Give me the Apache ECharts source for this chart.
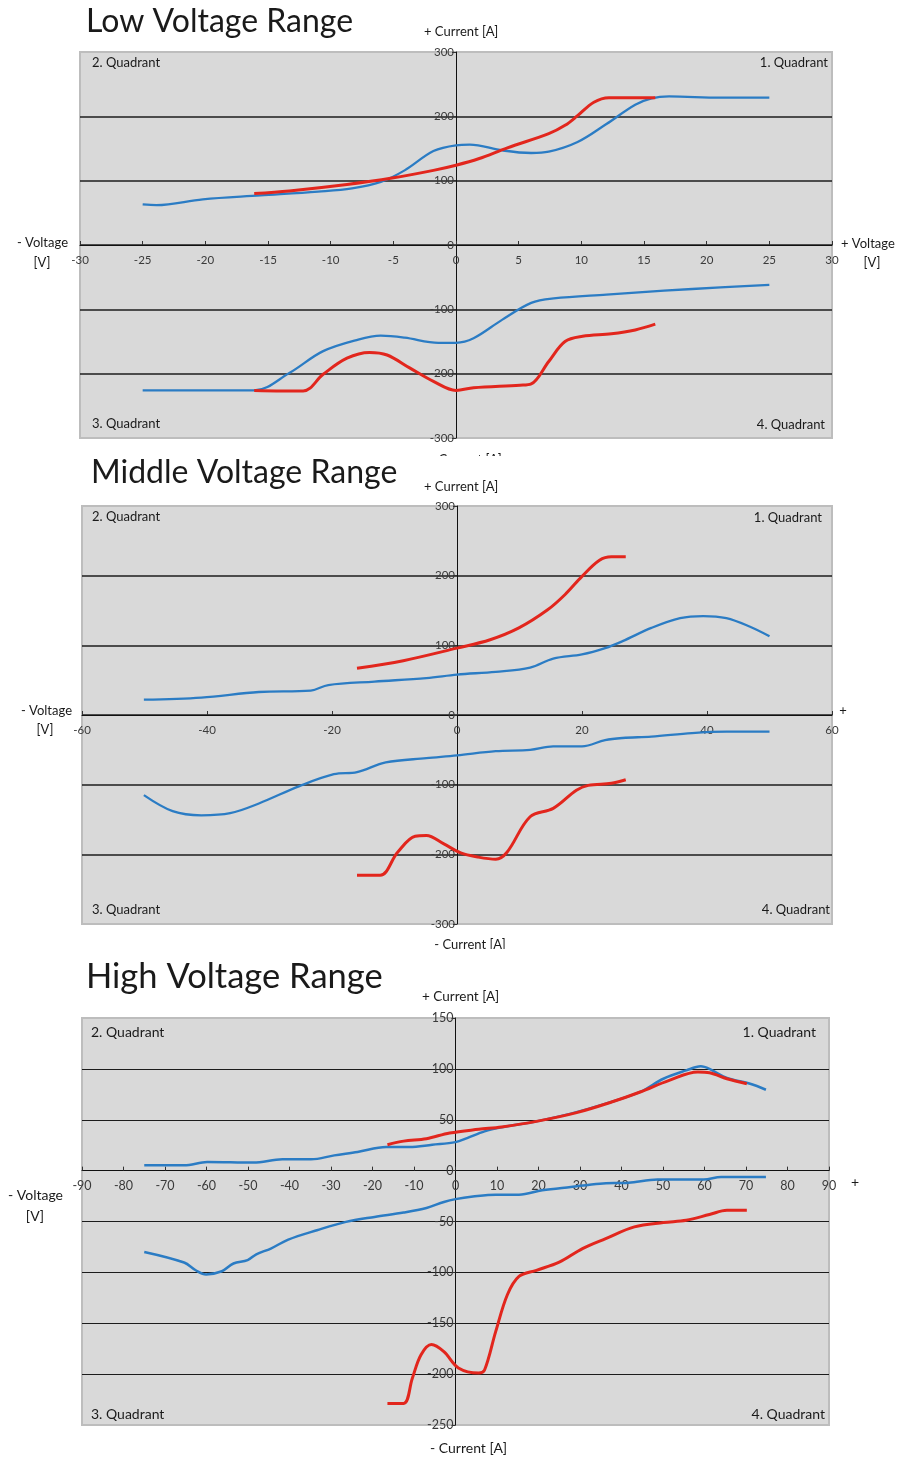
<!DOCTYPE html>
<html><head><meta charset="utf-8">
<script src="https://cdn.jsdelivr.net/npm/echarts@6/dist/echarts.min.js"></script>
<style>html,body{margin:0;padding:0;background:#fff}#c{width:904px;height:1458px}</style>
</head><body><div id="c"></div>
<script>
// ---- Low voltage range ----
const lowBluePos = [[-25,63],[-23.9,62],[-20.2,71],[-15.6,77],[-11,83],[-8.3,88],[-6,98],[-4.1,116],[-1.8,146],[0,155],[1.1,156],[3.7,147],[6,143],[7.4,145],[9.7,160],[12,188],[14.3,218],[15.6,228],[17,231],[21.1,229],[25,229]];
const lowRedPos = [[-16.1,80],[-13.3,84],[-8.7,94],[-5.1,104],[-1.8,116],[0,124],[1.8,134],[4.1,151],[7.4,173],[8.7,186],[9.7,201],[11,222],[12.2,229],[14.3,229],[15.9,229]];
const lowBlueNeg = [[-25,-226],[-16.1,-226],[-13.3,-199],[-10.6,-165],[-7.8,-147],[-6,-141],[-4.1,-144],[-1.4,-152],[0,-152],[1.4,-145],[3.7,-116],[6,-90],[7.8,-83],[12,-77],[16.6,-71],[21.1,-66],[25,-62]];
const lowRedNeg = [[-16.1,-226],[-12.2,-227],[-10.6,-201],[-8.7,-176],[-6.9,-167],[-5.5,-171],[-3.7,-191],[-1.8,-212],[0,-226],[1.4,-222],[5.1,-218],[6,-216],[7.4,-181],[8.7,-150],[10.1,-142],[12.4,-138],[14.3,-132],[15.9,-123]];
// ---- Middle voltage range ----
const midBluePos = [[-50.1,22],[-40.9,25],[-31.7,33],[-23.4,35],[-20.6,43],[-13.2,48],[-4.9,53],[0,58],[6.2,62],[11.7,68],[15.4,81],[20,87],[23.7,96],[26.5,106],[31.1,125],[35.7,139],[39.4,142],[43.1,139],[46.8,127],[50,113]];
const midRedPos = [[-16,67],[-8.6,78],[0,96],[5.3,108],[9.9,125],[14.5,151],[17.3,173],[20,199],[22.8,222],[24.7,227],[27,227]];
const midBlueNeg = [[-50.1,-115],[-45.5,-138],[-40.9,-144],[-36.3,-141],[-31.7,-127],[-25.2,-102],[-19.7,-85],[-16,-82],[-11.4,-68],[-4.9,-62],[0,-58],[6.2,-52],[11.7,-50],[15.4,-45],[20,-45],[23.7,-36],[26.5,-33],[31.1,-31],[37.6,-26],[43.1,-24],[50,-24]];
const midRedNeg = [[-16,-230],[-12.3,-230],[-9.5,-197],[-6.7,-174],[-4.9,-173],[-2.1,-185],[0.6,-198],[3.4,-204],[6.2,-207],[8,-197],[11.7,-146],[15.4,-134],[19.1,-108],[21,-101],[24.7,-98],[27,-93]];
// ---- High voltage range ----
const highBluePos = [[-75,5.2],[-65.4,5.2],[-59.8,8.5],[-48.7,7.9],[-41.7,11.1],[-34.8,11.1],[-29.2,15],[-23.6,18.3],[-16.7,23.2],[-11.1,23.2],[-5.6,25.5],[0,28],[2.8,32],[7,38.6],[11.1,42.5],[19.5,48.4],[27.8,56],[36.2,65.8],[44.5,77.3],[50.1,90.3],[55.6,98.5],[59.1,102.5],[61.2,100],[65.4,91],[71,85.4],[74.8,79.5]];
const highRedPos = [[-16.4,25.5],[-12.5,29],[-7,31.4],[-1.4,37],[5.6,40.6],[11.1,42.9],[19.5,48.4],[29.2,57],[37.6,67.4],[44.5,77.3],[51.5,88.7],[58.4,96.9],[61.2,96.2],[65.4,90.3],[70.2,85.4]];
const highBlueNeg = [[-75,-79.9],[-65.4,-90.3],[-62.6,-97.9],[-60.1,-102],[-56.3,-98.9],[-53.5,-91.3],[-50.1,-88],[-48,-82.2],[-44.5,-76.6],[-40.3,-67.8],[-33.4,-58.6],[-26.4,-50.4],[-19.5,-45.5],[-12.5,-41.2],[-7,-36.7],[-2.8,-30.8],[0,-28],[4.2,-25.5],[9.7,-23.6],[15.3,-23.6],[20.9,-19.3],[27.8,-16],[34.8,-12.8],[41.7,-11.8],[48.7,-8.8],[59.8,-8.8],[64,-6.2],[74.8,-6.2]];
const highRedNeg = [[-16.4,-228.8],[-12.5,-228.8],[-10.4,-204],[-8.3,-181],[-5.8,-171],[-2.8,-178],[0.7,-194],[5.6,-199],[7,-196],[9.7,-158],[12.5,-122],[15.3,-104],[19.5,-98],[25,-90],[30.6,-76.6],[36.2,-66.8],[43.1,-55.3],[50.1,-51],[55.6,-48.8],[61.2,-43.2],[65.4,-39],[70.2,-39]];

const titles = ['Low Voltage Range','Middle Voltage Range','High Voltage Range'];
const quadrantLabels = ['1. Quadrant','2. Quadrant','3. Quadrant','4. Quadrant'];
const xRanges = [[-30,30,5],[-60,60,20],[-90,90,10]];
const yRanges = [[-300,300,100],[-300,300,100],[-250,150,50]];

const BLUE = '#2b7cc4', RED = '#e2261d';
const FONT = 'Lato, "Open Sans", sans-serif';
const grids = [
  {left:80, top:52, width:752, height:386},
  {left:82, top:506, width:750, height:418},
  {left:82, top:1018, width:747, height:407}
];
const labelSizes = [11.5, 11.5, 12.5];

const chart = echarts.init(document.getElementById('c'), null, {renderer:'canvas'});

function splitColors(r){
  const n = Math.round((r[1]-r[0])/r[2])+1;
  const arr = [];
  for(let i=0;i<n;i++) arr.push((i===0||i===n-1)?'rgba(0,0,0,0)':'#1c1c1c');
  return arr;
}

// axes crossing at the origin: shift each axis by the zero position of the other one
const xAxes = xRanges.map((r,i)=>{
  const yr = yRanges[i];
  const off = -grids[i].height * (0 - yr[0]) / (yr[1]-yr[0]);
  return {
    type:'value', gridIndex:i, min:r[0], max:r[1], interval:r[2], position:'bottom', offset:off,
    axisLine:{show:true, onZero:false, lineStyle:{color:'#111', width:1}},
    axisTick:{show:true, inside:true, length:4, lineStyle:{color:'#333'}},
    axisLabel:{color:'#3a3a3a', fontSize:labelSizes[i], fontFamily:FONT, margin:9, showMinLabel:true, showMaxLabel:true},
    splitLine:{show:false}
  };
});
const yAxes = yRanges.map((r,i)=>{
  const xr = xRanges[i];
  const off = -grids[i].width * (0 - xr[0]) / (xr[1]-xr[0]);
  return {
    type:'value', gridIndex:i, min:r[0], max:r[1], interval:r[2], position:'left', offset:off,
    axisLine:{show:true, onZero:false, lineStyle:{color:'#111', width:1}},
    axisTick:{show:true, length:4, lineStyle:{color:'#333'}},
    axisLabel:{color:'#3a3a3a', fontSize:labelSizes[i], fontFamily:FONT, margin:2, showMinLabel:true, showMaxLabel:true},
    splitLine:{show:true, lineStyle:{color:splitColors(r), width: i===2?1.2:1.6}}
  };
});

function line(data, idx, color, w){
  return {type:'line', xAxisIndex:idx, yAxisIndex:idx, data:data, showSymbol:false, symbol:'none',
    smooth:0.35, lineStyle:{color:color, width:w}, z:3, animation:false};
}
const series = [
  line(lowBluePos,0,BLUE,2.3), line(lowBlueNeg,0,BLUE,2.3), line(lowRedPos,0,RED,3), line(lowRedNeg,0,RED,3),
  line(midBluePos,1,BLUE,2.3), line(midBlueNeg,1,BLUE,2.3), line(midRedPos,1,RED,3), line(midRedNeg,1,RED,3),
  line(highBluePos,2,BLUE,2.5), line(highBlueNeg,2,BLUE,2.5), line(highRedPos,2,RED,3), line(highRedNeg,2,RED,3)
];

function txt(x,y,s,size,align,extra){
  return Object.assign({type:'text', x:x, y:y, z:100, style:{text:s, fontSize:size, fontFamily:FONT, fill:'#1a1a1a',
    textAlign:align||'left', textVerticalAlign:'middle'}}, extra||{});
}
const g = [];
// Titles
g.push(txt(86,22,titles[0],32,'left'));
g.push(txt(91,473,titles[1],32,'left'));
g.push(txt(86,977,titles[2],34.5,'left'));
// chart 1 captions
g.push(txt(424,32,'+ Current [A]',13,'left'));
g.push(txt(68,243,'- Voltage',13,'right'));
g.push(txt(42,263,'[V]',13,'center'));
g.push(txt(841,244,'+ Voltage',13,'left'));
g.push(txt(872,263,'[V]',13,'center'));
g.push(txt(466,460,'- Current [A]',13,'center'));
g.push({type:'rect', z:101, shape:{x:400,y:456,width:140,height:14}, style:{fill:'#fff'}});
g.push(txt(92,63,quadrantLabels[1],13,'left'));
g.push(txt(828,63,quadrantLabels[0],13,'right'));
g.push(txt(92,424,quadrantLabels[2],13,'left'));
g.push(txt(825,425,quadrantLabels[3],13,'right'));
// chart 2 captions
g.push(txt(424,487,'+ Current [A]',13,'left'));
g.push(txt(72,711,'- Voltage',13,'right'));
g.push(txt(45,730,'[V]',13,'center'));
g.push(txt(843,711,'+',13,'center'));
g.push(txt(470,945,'- Current [A]',13,'center'));
g.push({type:'rect', z:101, shape:{x:400,y:949,width:140,height:12}, style:{fill:'#fff'}});
g.push(txt(92,517,quadrantLabels[1],13,'left'));
g.push(txt(822,518,quadrantLabels[0],13,'right'));
g.push(txt(92,910,quadrantLabels[2],13,'left'));
g.push(txt(830,910,quadrantLabels[3],13,'right'));
// chart 3 captions
g.push(txt(422,997,'+ Current [A]',13.5,'left'));
g.push(txt(63,1195,'- Voltage',14,'right'));
g.push(txt(35,1216,'[V]',14,'center'));
g.push(txt(855,1182,'+',14,'center'));
g.push(txt(430,1448,'- Current [A]',14,'left'));
g.push(txt(91,1032,quadrantLabels[1],14,'left'));
g.push(txt(816,1032,quadrantLabels[0],14,'right'));
g.push(txt(91,1414,quadrantLabels[2],14,'left'));
g.push(txt(825,1414,quadrantLabels[3],14,'right'));

chart.setOption({
  animation:false,
  backgroundColor:'#ffffff',
  grid: grids.map(gr=>Object.assign({show:true, backgroundColor:'#d9d9d9', borderColor:'#bdbdbd', borderWidth:2, containLabel:false}, gr)),
  xAxis:xAxes, yAxis:yAxes, series:series, graphic:g
});
</script></body></html>
